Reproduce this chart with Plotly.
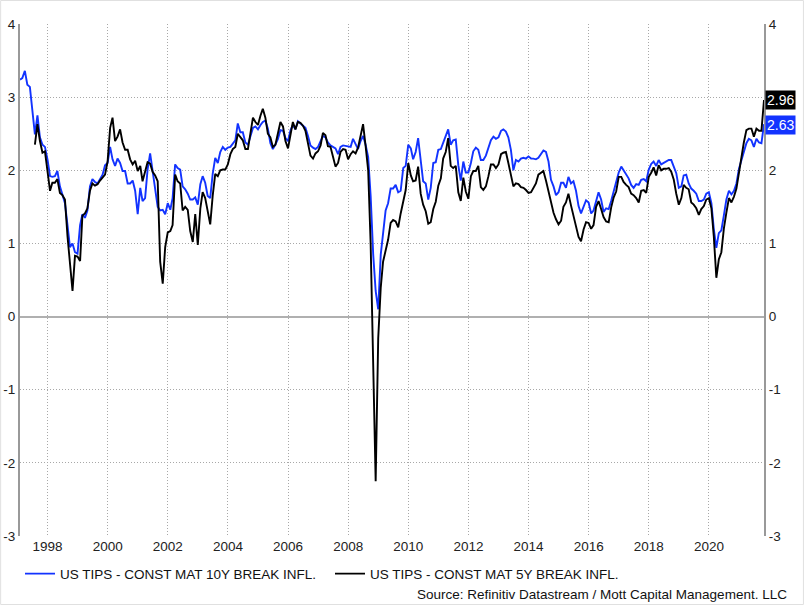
import pandas as pd
import plotly.graph_objects as go

# US TIPS constant maturity 10Y breakeven inflation, monthly, Jan 1997 - Oct 2021
blue_10y = (
    [3.24, 3.26, 3.36, 3.17, 3.14, 2.83, 2.49, 2.75, 2.45, 2.35, 2.32, 2.15]    # 1997
    + [1.92, 1.91, 1.92, 1.99, 1.78, 1.67, 1.55, 1.25, 0.95, 1.00, 0.88, 0.86]  # 1998
    + [1.25, 1.40, 1.35, 1.45, 1.78, 1.88, 1.84, 1.82, 1.88, 1.94, 2.07, 2.10]  # 1999
    + [2.32, 2.15, 2.06, 2.16, 2.10, 1.99, 1.99, 1.82, 1.82, 1.86, 1.72, 1.40]  # 2000
    + [1.76, 1.58, 1.62, 2.01, 2.23, 1.97, 1.78, 1.50, 1.45, 1.46, 1.40, 1.55]  # 2001
    + [1.46, 1.62, 2.08, 2.03, 2.01, 1.78, 1.74, 1.68, 1.60, 1.60, 1.63, 1.53]  # 2002
    + [1.81, 1.92, 1.83, 1.65, 1.62, 1.95, 2.17, 2.10, 2.25, 2.32, 2.28, 2.31]  # 2003
    + [2.32, 2.36, 2.41, 2.64, 2.52, 2.52, 2.38, 2.35, 2.45, 2.58, 2.60, 2.56]  # 2004
    + [2.62, 2.66, 2.68, 2.57, 2.37, 2.29, 2.35, 2.43, 2.55, 2.54, 2.44, 2.40]  # 2005
    + [2.55, 2.62, 2.56, 2.67, 2.64, 2.61, 2.58, 2.47, 2.34, 2.31, 2.29, 2.32]  # 2006
    + [2.39, 2.47, 2.45, 2.38, 2.34, 2.32, 2.30, 2.22, 2.32, 2.34, 2.33, 2.33]  # 2007
    + [2.32, 2.43, 2.35, 2.29, 2.40, 2.47, 2.35, 2.18, 1.65, 0.85, 0.35, 0.10]  # 2008
    + [0.85, 1.15, 1.45, 1.55, 1.75, 1.75, 1.80, 1.70, 1.72, 2.03, 2.06, 2.35]  # 2009
    + [2.30, 2.15, 2.25, 2.44, 2.17, 1.85, 1.82, 1.60, 1.76, 2.10, 2.11, 2.28]  # 2010
    + [2.29, 2.38, 2.48, 2.56, 2.35, 2.41, 2.42, 2.07, 1.86, 2.12, 1.97, 1.97]  # 2011
    + [2.10, 2.26, 2.31, 2.28, 2.14, 2.14, 2.20, 2.30, 2.41, 2.46, 2.43, 2.45]  # 2012
    + [2.54, 2.56, 2.53, 2.45, 2.28, 2.00, 2.14, 2.12, 2.16, 2.17, 2.16, 2.19]  # 2013
    + [2.16, 2.16, 2.15, 2.17, 2.23, 2.27, 2.25, 2.12, 1.87, 1.78, 1.66, 1.70]  # 2014
    + [1.83, 1.83, 1.76, 1.91, 1.82, 1.85, 1.72, 1.51, 1.41, 1.50, 1.59, 1.56]  # 2015
    + [1.41, 1.45, 1.59, 1.70, 1.60, 1.43, 1.48, 1.47, 1.58, 1.73, 1.84, 1.97]  # 2016
    + [2.05, 2.00, 1.95, 1.89, 1.80, 1.76, 1.81, 1.80, 1.87, 1.88, 1.85, 2.01]  # 2017
    + [2.09, 2.12, 2.06, 2.14, 2.08, 2.10, 2.12, 2.14, 2.14, 2.06, 1.96, 1.76]  # 2018
    + [1.78, 1.93, 1.94, 1.82, 1.75, 1.72, 1.68, 1.58, 1.58, 1.60, 1.68, 1.70]  # 2019
    + [1.55, 1.20, 0.94, 1.14, 1.18, 1.38, 1.60, 1.72, 1.67, 1.72, 1.82, 2.02]  # 2020
    + [2.14, 2.23, 2.37, 2.43, 2.41, 2.32, 2.43, 2.38, 2.37, 2.63]              # 2021
)

# US TIPS constant maturity 5Y breakeven inflation, monthly, Jul 1997 - Oct 2021
black_5y = (
    [2.35, 2.63, 2.40, 2.24, 2.26, 2.01]                                        # 1997 (Jul-Dec)
    + [1.72, 1.83, 1.83, 1.88, 1.69, 1.66, 1.60, 1.10, 0.70, 0.35, 0.83, 0.82]  # 1998
    + [0.76, 1.38, 1.41, 1.48, 1.72, 1.82, 1.79, 1.81, 1.86, 1.90, 1.94, 2.12]  # 1999
    + [2.58, 2.72, 2.40, 2.46, 2.56, 2.38, 2.28, 2.28, 2.15, 2.08, 2.13, 1.99]  # 2000
    + [2.06, 1.85, 1.98, 2.11, 2.09, 1.98, 1.93, 1.85, 0.75, 0.45, 0.95, 1.15]  # 2001
    + [1.17, 1.25, 1.94, 1.85, 1.82, 1.45, 1.50, 1.46, 1.17, 1.02, 1.40, 0.98]  # 2002
    + [1.48, 1.70, 1.62, 1.42, 1.26, 1.65, 1.95, 1.92, 2.00, 2.01, 2.01, 2.08]  # 2003
    + [2.22, 2.29, 2.32, 2.50, 2.45, 2.41, 2.29, 2.29, 2.50, 2.72, 2.66, 2.62]  # 2004
    + [2.75, 2.84, 2.72, 2.50, 2.45, 2.32, 2.35, 2.52, 2.66, 2.60, 2.40, 2.30]  # 2005
    + [2.50, 2.66, 2.56, 2.66, 2.65, 2.61, 2.54, 2.38, 2.20, 2.16, 2.23, 2.26]  # 2006
    + [2.34, 2.51, 2.48, 2.33, 2.32, 2.19, 2.05, 2.10, 2.25, 2.29, 2.28, 2.15]  # 2007
    + [2.22, 2.26, 2.23, 2.31, 2.48, 2.63, 2.33, 2.00, 1.00, -0.55, -2.25, -0.30]  # 2008
    + [0.40, 0.75, 0.90, 1.05, 1.28, 1.32, 1.30, 1.22, 1.41, 1.60, 1.73, 2.10]  # 2009
    + [1.93, 1.85, 1.86, 2.05, 1.68, 1.53, 1.44, 1.27, 1.29, 1.47, 1.57, 1.79]  # 2010
    + [1.89, 2.16, 2.25, 2.44, 2.06, 2.03, 2.06, 1.70, 1.58, 1.90, 1.71, 1.61]  # 2011
    + [1.92, 1.99, 1.99, 2.06, 1.77, 1.73, 1.78, 1.92, 2.08, 2.08, 2.03, 2.08]  # 2012
    + [2.22, 2.24, 2.25, 2.10, 1.92, 1.78, 1.82, 1.81, 1.77, 1.76, 1.73, 1.69]  # 2013
    + [1.70, 1.75, 1.82, 1.94, 1.97, 1.99, 1.86, 1.72, 1.56, 1.42, 1.33, 1.26]  # 2014
    + [1.31, 1.50, 1.56, 1.68, 1.52, 1.38, 1.22, 1.09, 1.03, 1.19, 1.29, 1.28]  # 2015
    + [1.20, 1.25, 1.50, 1.58, 1.47, 1.36, 1.30, 1.29, 1.49, 1.63, 1.71, 1.91]  # 2016
    + [1.91, 1.84, 1.80, 1.77, 1.68, 1.66, 1.62, 1.56, 1.72, 1.73, 1.69, 1.91]  # 2017
    + [1.97, 2.04, 1.93, 2.07, 2.00, 2.02, 2.02, 2.03, 1.98, 1.87, 1.68, 1.53]  # 2018
    + [1.62, 1.80, 1.76, 1.74, 1.56, 1.53, 1.48, 1.39, 1.47, 1.51, 1.60, 1.62]  # 2019
    + [1.48, 1.10, 0.53, 0.78, 0.88, 1.20, 1.42, 1.62, 1.56, 1.64, 1.75, 1.98]  # 2020
    + [2.22, 2.38, 2.55, 2.57, 2.57, 2.46, 2.57, 2.54, 2.54, 2.96]              # 2021
)

blue_name = "US TIPS - CONST MAT 10Y BREAK INFL."
black_name = "US TIPS - CONST MAT 5Y BREAK INFL."
source_text = "Source: Refinitiv Datastream / Mott Capital Management. LLC"
year_ticks = [str(y) for y in range(1998, 2021, 2)]
y_ticks = [-3, -2, -1, 0, 1, 2, 3, 4]
# right-hand tick labels: the "3" sits under the latest-value box
right_tick_text = ["-3", "-2", "-1", "0", "1", "2", "", "4"]

try:
    blue_dates = pd.date_range("1997-01-31", periods=len(blue_10y), freq="ME")
    black_dates = pd.date_range("1997-07-31", periods=len(black_5y), freq="ME")
except Exception:
    blue_dates = pd.date_range("1997-01-31", periods=len(blue_10y), freq="M")
    black_dates = pd.date_range("1997-07-31", periods=len(black_5y), freq="M")

BLUE = "#1233ff"
BLACK = "#000000"
FONT = "Liberation Sans, Arial, sans-serif"
GRID = "#a8a8a8"
GRID_DASH = "1px,2px"

fig = go.Figure()
fig.add_trace(go.Scatter(x=blue_dates, y=blue_10y, mode="lines", name=blue_name,
                         line=dict(color=BLUE, width=1.9)))
fig.add_trace(go.Scatter(x=black_dates, y=black_5y, mode="lines", name=black_name,
                         line=dict(color=BLACK, width=1.9), yaxis="y2"))

yax = dict(range=[-3, 4], tickvals=y_ticks,
           gridcolor=GRID, griddash=GRID_DASH, gridwidth=1,
           showline=True, linecolor="#999999", linewidth=2,
           ticks="", tickfont=dict(family=FONT, size=13.5, color="#222222"),
           automargin=False, fixedrange=True)

fig.update_layout(
    width=804, height=605,
    margin=dict(l=20, r=40, t=24, b=69),
    paper_bgcolor="white", plot_bgcolor="white",
    font=dict(family=FONT, size=13.5, color="#111111"),
    xaxis=dict(type="date", range=[blue_dates[0], blue_dates[-1]],
               tickvals=[f"{y}-01-01" for y in year_ticks], ticktext=year_ticks,
               showgrid=True, gridcolor=GRID, griddash=GRID_DASH, gridwidth=1,
               showline=False, zeroline=False, ticks="",
               tickfont=dict(family=FONT, size=13.5, color="#222222"),
               automargin=False),
    yaxis=dict(**yax, ticktext=[str(v) for v in y_ticks], showgrid=True,
               zeroline=True, zerolinecolor="#b0b0b0", zerolinewidth=2, side="left"),
    yaxis2=dict(**yax, ticktext=right_tick_text, showgrid=False,
                zeroline=False, overlaying="y", side="right"),
    showlegend=True,
    legend=dict(orientation="h", x=0, xanchor="left", y=-0.074, yanchor="middle",
                font=dict(family=FONT, size=13.5, color="#111111"),
                entrywidth=265, entrywidthmode="pixels",
                bgcolor="rgba(0,0,0,0)"),
)

fig.add_annotation(xref="paper", yref="y", x=1, y=black_5y[-1], xanchor="left",
                   text=f"{black_5y[-1]:.2f}", showarrow=False, bgcolor=BLACK,
                   font=dict(family=FONT, size=14, color="white"), borderpad=1, xshift=1)
fig.add_annotation(xref="paper", yref="y", x=1, y=blue_10y[-1], xanchor="left",
                   text=f"{blue_10y[-1]:.2f}", showarrow=False, bgcolor=BLUE,
                   font=dict(family=FONT, size=14, color="white"), borderpad=1, xshift=1,
                   yshift=-1)
fig.add_annotation(xref="paper", yref="paper", x=1.0336, y=-0.1133, xanchor="right",
                   yanchor="middle", text=source_text, showarrow=False,
                   font=dict(family=FONT, size=13.5, color="#111111"))
fig.add_shape(type="rect", xref="paper", yref="paper", x0=-0.026, x1=1.053,
              y0=-0.1338, y1=1.0459, line=dict(color="#e0e0e0", width=1), layer="below")

fig.write_html("out.html")
